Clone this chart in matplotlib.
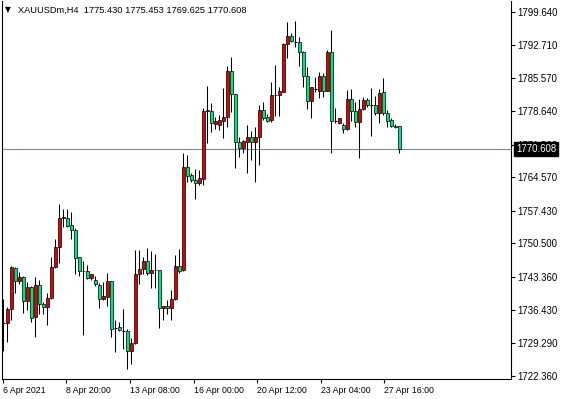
import matplotlib
matplotlib.use('Agg')
import matplotlib.pyplot as plt
from matplotlib.patches import Rectangle

# XAUUSDm H4 bars
opens = [1733.70, 1733.54, 1736.52, 1745.22, 1742.60, 1743.31, 1738.36, 1741.19, 1734.82, 1741.61,
         1737.58, 1736.94, 1738.85, 1745.43, 1749.68, 1755.84, 1755.84, 1754.42, 1753.36, 1747.56,
         1744.73, 1744.73, 1743.10, 1742.74, 1741.68, 1738.78, 1739.21, 1742.53, 1732.62, 1732.77,
         1731.92, 1731.92, 1727.74, 1729.30, 1744.02, 1745.08, 1746.78, 1744.16, 1744.87, 1744.87,
         1736.73, 1737.23, 1736.73, 1738.64, 1745.72, 1744.87, 1766.81, 1765.04, 1763.98, 1763.27,
         1764.12, 1778.70, 1778.70, 1775.80, 1775.58, 1776.57, 1777.28, 1787.12, 1782.16, 1772.11,
         1770.70, 1772.11, 1773.18, 1771.97, 1773.18, 1778.84, 1777.28, 1776.72, 1782.02, 1782.02,
         1782.73, 1792.78, 1794.62, 1793.35, 1793.21, 1791.22, 1786.13, 1780.82, 1783.30, 1782.94,
         1786.06, 1782.94, 1791.08, 1776.50, 1776.15, 1775.65, 1774.73, 1781.17, 1778.63, 1776.36,
         1778.98, 1780.96, 1779.90, 1779.90, 1778.13, 1782.73, 1778.13, 1776.72, 1775.50, 1775.430]
highs = [1738.70, 1737.08, 1745.65, 1745.58, 1744.44, 1743.59, 1742.25, 1741.47, 1743.31, 1742.74,
         1738.14, 1739.91, 1747.70, 1751.38, 1758.88, 1757.75, 1757.75, 1757.25, 1753.71, 1747.70,
         1746.85, 1745.93, 1744.10, 1743.59, 1742.18, 1742.39, 1744.30, 1742.60, 1734.25, 1733.90,
         1736.59, 1732.27, 1730.36, 1749.11, 1749.11, 1747.56, 1749.47, 1748.90, 1748.27, 1744.90,
         1737.30, 1738.50, 1740.62, 1748.05, 1749.33, 1769.64, 1769.29, 1765.39, 1766.24, 1766.10,
         1779.19, 1784.00, 1780.40, 1777.42, 1777.78, 1783.44, 1788.18, 1790.02, 1782.30, 1773.18,
         1772.47, 1775.65, 1774.45, 1775.30, 1779.90, 1780.61, 1777.99, 1784.85, 1788.39, 1783.79,
         1793.00, 1797.59, 1795.12, 1797.73, 1794.41, 1791.30, 1788.04, 1783.79, 1785.92, 1786.98,
         1786.62, 1791.58, 1795.82, 1779.19, 1777.10, 1776.01, 1783.08, 1783.30, 1780.61, 1781.10,
         1781.67, 1781.32, 1783.58, 1781.81, 1783.30, 1785.56, 1778.84, 1777.07, 1775.80, 1775.453]
lows = [1727.70, 1729.65, 1734.25, 1740.06, 1741.90, 1735.81, 1736.38, 1733.90, 1730.71, 1735.46,
        1735.46, 1733.19, 1738.70, 1745.30, 1746.28, 1754.07, 1754.07, 1751.38, 1744.02, 1743.59,
        1731.07, 1742.96, 1742.74, 1741.47, 1736.87, 1738.50, 1737.22, 1730.71, 1727.53, 1732.00,
        1728.10, 1723.78, 1724.84, 1729.20, 1741.82, 1744.02, 1743.81, 1740.98, 1740.98, 1732.63,
        1734.25, 1735.53, 1734.25, 1738.60, 1744.30, 1744.70, 1763.62, 1763.62, 1759.87, 1762.91,
        1762.91, 1771.90, 1774.24, 1774.73, 1774.59, 1772.82, 1775.16, 1778.48, 1766.59, 1768.93,
        1769.78, 1765.53, 1768.22, 1763.62, 1767.16, 1776.71, 1776.22, 1776.36, 1777.56, 1777.56,
        1782.70, 1789.81, 1793.21, 1792.29, 1788.18, 1783.79, 1778.98, 1777.21, 1782.73, 1781.46,
        1781.53, 1782.90, 1769.78, 1776.01, 1775.87, 1773.88, 1774.60, 1776.57, 1775.30, 1768.58,
        1778.84, 1779.55, 1773.32, 1777.78, 1776.01, 1777.78, 1775.30, 1775.30, 1775.10, 1769.625]
closes = [1733.70, 1736.59, 1745.43, 1742.60, 1743.31, 1738.36, 1741.19, 1734.61, 1741.61, 1737.58,
          1736.94, 1738.85, 1745.43, 1749.68, 1755.84, 1756.05, 1754.28, 1753.36, 1747.49, 1744.73,
          1744.70, 1743.10, 1744.02, 1741.82, 1738.78, 1739.35, 1742.53, 1732.27, 1732.62, 1732.06,
          1731.92, 1727.74, 1729.30, 1744.02, 1745.08, 1746.78, 1744.16, 1744.87, 1744.80, 1736.73,
          1737.23, 1736.73, 1738.64, 1745.72, 1744.73, 1766.81, 1764.90, 1763.98, 1763.27, 1764.47,
          1778.70, 1778.75, 1776.01, 1776.50, 1776.71, 1777.28, 1787.12, 1782.16, 1772.11, 1770.84,
          1772.26, 1773.18, 1771.97, 1773.18, 1778.84, 1777.21, 1776.57, 1782.02, 1782.00, 1782.87,
          1792.78, 1794.62, 1793.56, 1793.35, 1791.22, 1786.13, 1780.75, 1783.65, 1783.30, 1786.06,
          1782.94, 1791.22, 1776.50, 1776.50, 1777.07, 1774.73, 1781.17, 1778.63, 1776.36, 1778.98,
          1780.96, 1779.90, 1779.90, 1778.13, 1782.38, 1778.13, 1776.57, 1775.44, 1775.30, 1770.608]

price_ticks = [1799.640, 1792.710, 1785.570, 1778.640, 1771.500, 1764.570,
               1757.430, 1750.500, 1743.360, 1736.430, 1729.290, 1722.360]
time_labels = ['6 Apr 2021', '8 Apr 20:00', '13 Apr 08:00', '16 Apr 00:00',
               '20 Apr 12:00', '23 Apr 04:00', '27 Apr 16:00']
time_pos = [0, 15.7, 31.7, 47.6, 63.5, 79.3, 95.2]
symbol = 'XAUUSDm,H4'
last_price = 1770.608

bull_col = '#e00000'
bear_col = '#00e676'

plt.rcParams['font.family'] = ['Liberation Sans', 'DejaVu Sans']
fig = plt.figure(figsize=(5.64, 3.99), dpi=100)
ax = fig.add_axes([2 / 564, 20 / 399, 509 / 564, 378 / 399])

for i in range(len(opens)):
    o, h, l, c = opens[i], highs[i], lows[i], closes[i]
    ax.vlines(i, l, h, color='black', lw=0.75, zorder=2)
    if o == c:
        ax.hlines(o, i - 0.35, i + 0.35, color='black', lw=0.75, zorder=3)
    else:
        col = bull_col if c > o else bear_col
        ax.add_patch(Rectangle((i - 0.3, min(o, c)), 0.6, abs(c - o),
                               facecolor=col, edgecolor='black', lw=0.5, zorder=3))

ax.axhline(last_price, color='#778899', lw=0.8, zorder=1)

ax.set_xlim(-0.33, 126.9)
ax.set_ylim(1721.72, 1801.98)

ax.yaxis.tick_right()
ax.set_yticks(price_ticks)
ax.set_yticklabels(['%.3f' % p for p in price_ticks])
ax.set_xticks(time_pos)
ax.set_xticklabels(time_labels)
for lab in ax.get_xticklabels():
    lab.set_ha('left')
ax.tick_params(axis='both', direction='out', length=3, width=0.8, colors='black')
ax.tick_params(axis='y', pad=1.5, labelsize=6.9)
ax.tick_params(axis='x', pad=2, labelsize=6.3)
for s in ax.spines.values():
    s.set_linewidth(0.8)
ax.spines['top'].set_visible(False)

ax.annotate('%.3f' % last_price, xy=(1, last_price), xycoords=('axes fraction', 'data'),
            xytext=(5, 0), textcoords='offset pixels', va='center', ha='left',
            fontsize=6.9, color='white', zorder=10, annotation_clip=False,
            bbox=dict(boxstyle='square,pad=0.2', fc='black', ec='black'))

fig.text(5 / 564, 1 - 10 / 399, '\u25bc', fontsize=5.5, va='center', ha='left',
         family='DejaVu Sans')
fig.text(18 / 564, 1 - 10 / 399, '%s  %.3f %.3f %.3f %.3f' % (symbol, opens[-1], highs[-1], lows[-1], closes[-1]),
         fontsize=6.7, va='center', ha='left')

fig.savefig('out.png', dpi=100)
